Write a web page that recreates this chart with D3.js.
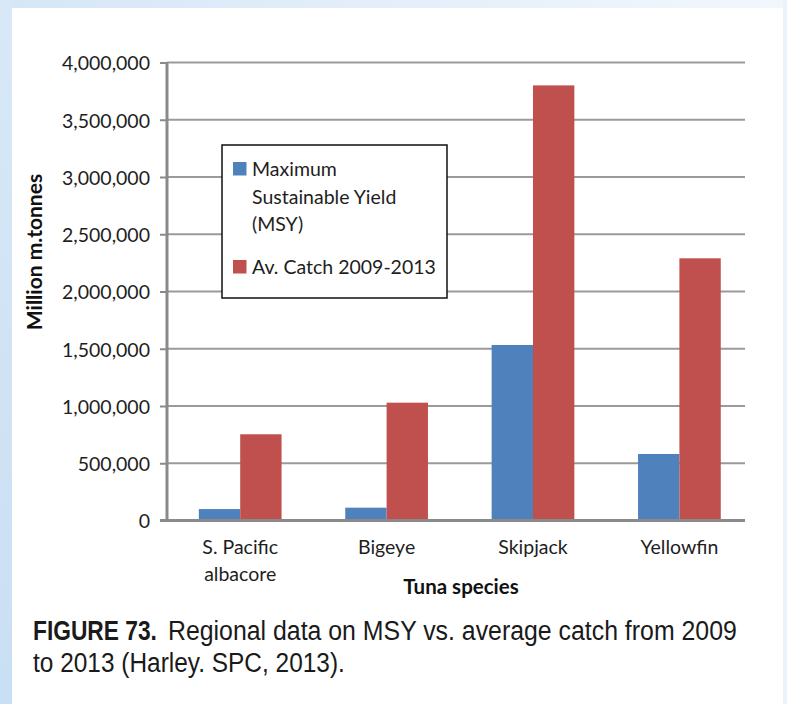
<!DOCTYPE html>
<html>
<head>
<meta charset="utf-8">
<script src="https://cdn.jsdelivr.net/npm/d3@7/dist/d3.min.js"></script>
<style>
html,body{margin:0;padding:0;background:#fff;}
svg{display:block;}
</style>
</head>
<body>
<svg id="chart" width="787" height="704"></svg>
<script>
const categories = [["S. Pacific","albacore"],["Bigeye"],["Skipjack"],["Yellowfin"]];
const categoryKeys = ["S. Pacific albacore","Bigeye","Skipjack","Yellowfin"];
const seriesNames = ["Maximum Sustainable Yield (MSY)","Av. Catch 2009-2013"];
const msyValues = [100000, 112000, 1533000, 581000];
const catchValues = [753000, 1029000, 3800000, 2290000];
const yTicks = [0,500000,1000000,1500000,2000000,2500000,3000000,3500000,4000000];
const legendLines = [["Maximum","Sustainable Yield","(MSY)"],["Av. Catch 2009-2013"]];
const colors = ["#4f81bd","#c0504d"];

const svg = d3.select("#chart");
const defs = svg.append("defs");
const g1 = defs.append("linearGradient").attr("id","topg").attr("x1","0").attr("x2","1").attr("y1","0").attr("y2","0");
g1.append("stop").attr("offset","0").attr("stop-color","#d6e6f6");
g1.append("stop").attr("offset","1").attr("stop-color","#f2f7fc");
const g2 = defs.append("linearGradient").attr("id","leftg").attr("x1","0").attr("x2","0").attr("y1","0").attr("y2","1");
g2.append("stop").attr("offset","0").attr("stop-color","#d8e8f7");
g2.append("stop").attr("offset","1").attr("stop-color","#c9dff3");

// background frame
svg.append("rect").attr("x",0).attr("y",0).attr("width",787).attr("height",704).attr("fill","#ffffff");
svg.append("rect").attr("x",0).attr("y",0).attr("width",787).attr("height",8).attr("fill","url(#topg)");
svg.append("rect").attr("x",0).attr("y",0).attr("width",12).attr("height",704).attr("fill","url(#leftg)");
svg.append("rect").attr("x",783).attr("y",0).attr("width",4).attr("height",704).attr("fill","#eaf2fb");

const left = 167, right = 752.6, gridRight = 745;
const y = d3.scaleLinear().domain([0,4000000]).range([520.5,62.5]);
const x0 = d3.scaleBand().domain(categoryKeys).range([left,right]).paddingInner(0.435).paddingOuter(0.2175);
const x1 = d3.scaleBand().domain(seriesNames).range([0,x0.bandwidth()]);

// gridlines
svg.append("g").selectAll("line").data(yTicks.slice(1)).join("line")
  .attr("x1",left).attr("x2",gridRight)
  .attr("y1",d=>y(d)).attr("y2",d=>y(d))
  .attr("stroke","#9a9a9a").attr("stroke-width",2);

// y axis
const yAxis = d3.axisLeft(y).tickValues(yTicks).tickSize(7).tickPadding(10).tickFormat(d3.format(","));
const ya = svg.append("g").attr("transform",`translate(${left},0)`).call(yAxis);
ya.select(".domain").remove();
ya.selectAll(".tick line").attr("stroke","#8a8a8a").attr("stroke-width",2);
ya.selectAll(".tick text").attr("font-family","Lato, 'Open Sans', sans-serif").attr("font-size",19.5).attr("fill","#1e1e1e").attr("dy","0.38em");

// bars
const rows = categoryKeys.map((c,i)=>({cat:c, vals:[msyValues[i],catchValues[i]]}));
const grp = svg.append("g").selectAll("g").data(rows).join("g").attr("transform",d=>`translate(${x0(d.cat)},0)`);
grp.selectAll("rect").data(d=>d.vals.map((v,j)=>({v,s:seriesNames[j],j}))).join("rect")
  .attr("x",d=>x1(d.s)).attr("width",x1.bandwidth())
  .attr("y",d=>y(d.v)).attr("height",d=>y(0)-y(d.v))
  .attr("fill",d=>colors[d.j]);

// axis lines
svg.append("line").attr("x1",left).attr("x2",left).attr("y1",y(4000000)).attr("y2",y(0)).attr("stroke","#8a8a8a").attr("stroke-width",3);
svg.append("line").attr("x1",left-7).attr("x2",gridRight).attr("y1",y(0)).attr("y2",y(0)).attr("stroke","#8a8a8a").attr("stroke-width",3);

// x labels
const xl = svg.append("g");
categories.forEach((lines,i)=>{
  const cx = x0(categoryKeys[i]) + x0.bandwidth()/2;
  lines.forEach((t,k)=>{
    xl.append("text").attr("x",cx).attr("y",554 + k*27).attr("text-anchor","middle")
      .attr("font-family","Lato, 'Open Sans', sans-serif").attr("font-size",19.5).attr("fill","#1e1e1e").text(t);
  });
});

// axis titles
svg.append("text").attr("x",461).attr("y",594).attr("text-anchor","middle")
  .attr("font-family","Lato, 'Open Sans', sans-serif").attr("font-weight","bold").attr("font-size",20.5).attr("fill","#111").text("Tuna species");
svg.append("text").attr("transform","translate(42,252) rotate(-90)").attr("text-anchor","middle")
  .attr("font-family","Lato, 'Open Sans', sans-serif").attr("font-weight","bold").attr("font-size",21).attr("fill","#111").text("Million m.tonnes");

// legend
const lg = svg.append("g");
lg.append("rect").attr("x",222).attr("y",145).attr("width",225).attr("height",153).attr("fill","#fff").attr("stroke","#111").attr("stroke-width",1.5);
const legendY = [[176,204,231],[274]];
legendLines.forEach((lines,j)=>{
  lg.append("rect").attr("x",233).attr("y",legendY[j][0]-14).attr("width",13.5).attr("height",13.5).attr("fill",colors[j]);
  lines.forEach((t,k)=>{
    lg.append("text").attr("x",252).attr("y",legendY[j][k]).attr("font-family","Lato, 'Open Sans', sans-serif")
      .attr("font-size",19.5).attr("fill","#1e1e1e").text(t);
  });
});

// caption (condensed look via horizontal scaling)
const capFont = "'Liberation Sans Narrow', 'Liberation Sans', Arial, sans-serif";
function capText(x, yy, w, txt, bold){
  const t = svg.append("text").attr("x",0).attr("y",0).attr("font-family",capFont)
    .attr("font-weight",bold ? "bold" : "normal").attr("font-size",28).attr("fill","#1a1a1a").text(txt);
  const nat = t.node().getComputedTextLength();
  t.attr("transform",`translate(${x},${yy}) scale(${w/nat},1)`);
}
capText(33, 640, 124, "FIGURE 73.", true);
capText(168, 640, 569, "Regional data on MSY vs. average catch from 2009", false);
capText(33, 672, 312, "to 2013 (Harley. SPC, 2013).", false);
</script>
</body>
</html>
